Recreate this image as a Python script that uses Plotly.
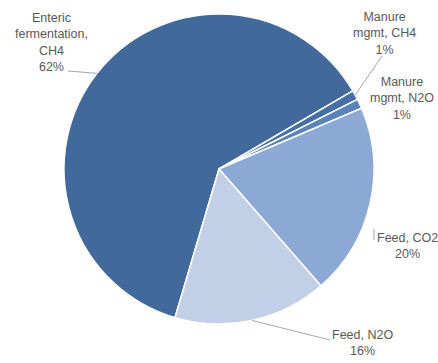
import numpy as np
import plotly.graph_objects as go

# Emission sources and their shares (%)
categories = ["Enteric<br>fermentation,<br>CH4", "Manure<br>mgmt, CH4", "Manure<br>mgmt, N2O",
              "Feed, CO2", "Feed, N2O"]
shares = [62, 1, 1, 20, 16]
colors = ["#42699b", "#456fa5", "#5c82ba", "#8ca9d6", "#c2d0e7"]

W, H = 438, 363
CX, CY, R = 219, 169, 155          # pie centre and radius in pixels
START = 196.5                      # angle of first slice, clockwise from 12 o'clock

def px(x, y):
    return x / W, 1 - y / H

fig = go.Figure(go.Pie(
    labels=categories, values=shares, sort=False, direction="clockwise",
    rotation=START, marker=dict(colors=colors, line=dict(color="white", width=1.5)),
    textinfo="none", hoverinfo="label+percent", showlegend=False,
    domain=dict(x=[(CX - R) / W, (CX + R) / W], y=[1 - (CY + R) / H, 1 - (CY - R) / H]),
))

# mid-angle of every slice, used for the leader lines
vals = np.array(shares, dtype=float)
cum = np.cumsum(vals) - vals / 2
mid = np.radians(START + 360 * cum / vals.sum())
edge = [(CX + R * np.sin(a), CY - R * np.cos(a)) for a in mid]

label_pos = [(51, 43), (384, 33), (402, 98), (407, 246), (362, 343)]
leader_from = [(68, 71), (382, 56), None, (374, 229), (330, 340)]

annotations = []
for i, (name, val) in enumerate(zip(categories, shares)):
    x, y = px(*label_pos[i])
    annotations.append(dict(x=x, y=y, xref="paper", yref="paper", showarrow=False,
                            xanchor="center", yanchor="middle",
                            text=f"{name}<br>{val}%", align="center",
                            font=dict(family="Liberation Sans", size=12.5, color="#595959")))

shapes = []
for i, src in enumerate(leader_from):
    if src is None:
        continue
    if i == 3:
        x0, y0 = px(374, 229)
        x1, y1 = px(374, 240)
    else:
        x0, y0 = px(*src)
        x1, y1 = px(*edge[i])
    shapes.append(dict(type="line", xref="paper", yref="paper", x0=x0, y0=y0, x1=x1, y1=y1,
                       line=dict(color="#a6a6a6", width=1)))

fig.update_layout(width=W, height=H, margin=dict(l=0, r=0, t=0, b=0),
                  paper_bgcolor="white", plot_bgcolor="white",
                  annotations=annotations, shapes=shapes)

fig.write_html("out.html")
